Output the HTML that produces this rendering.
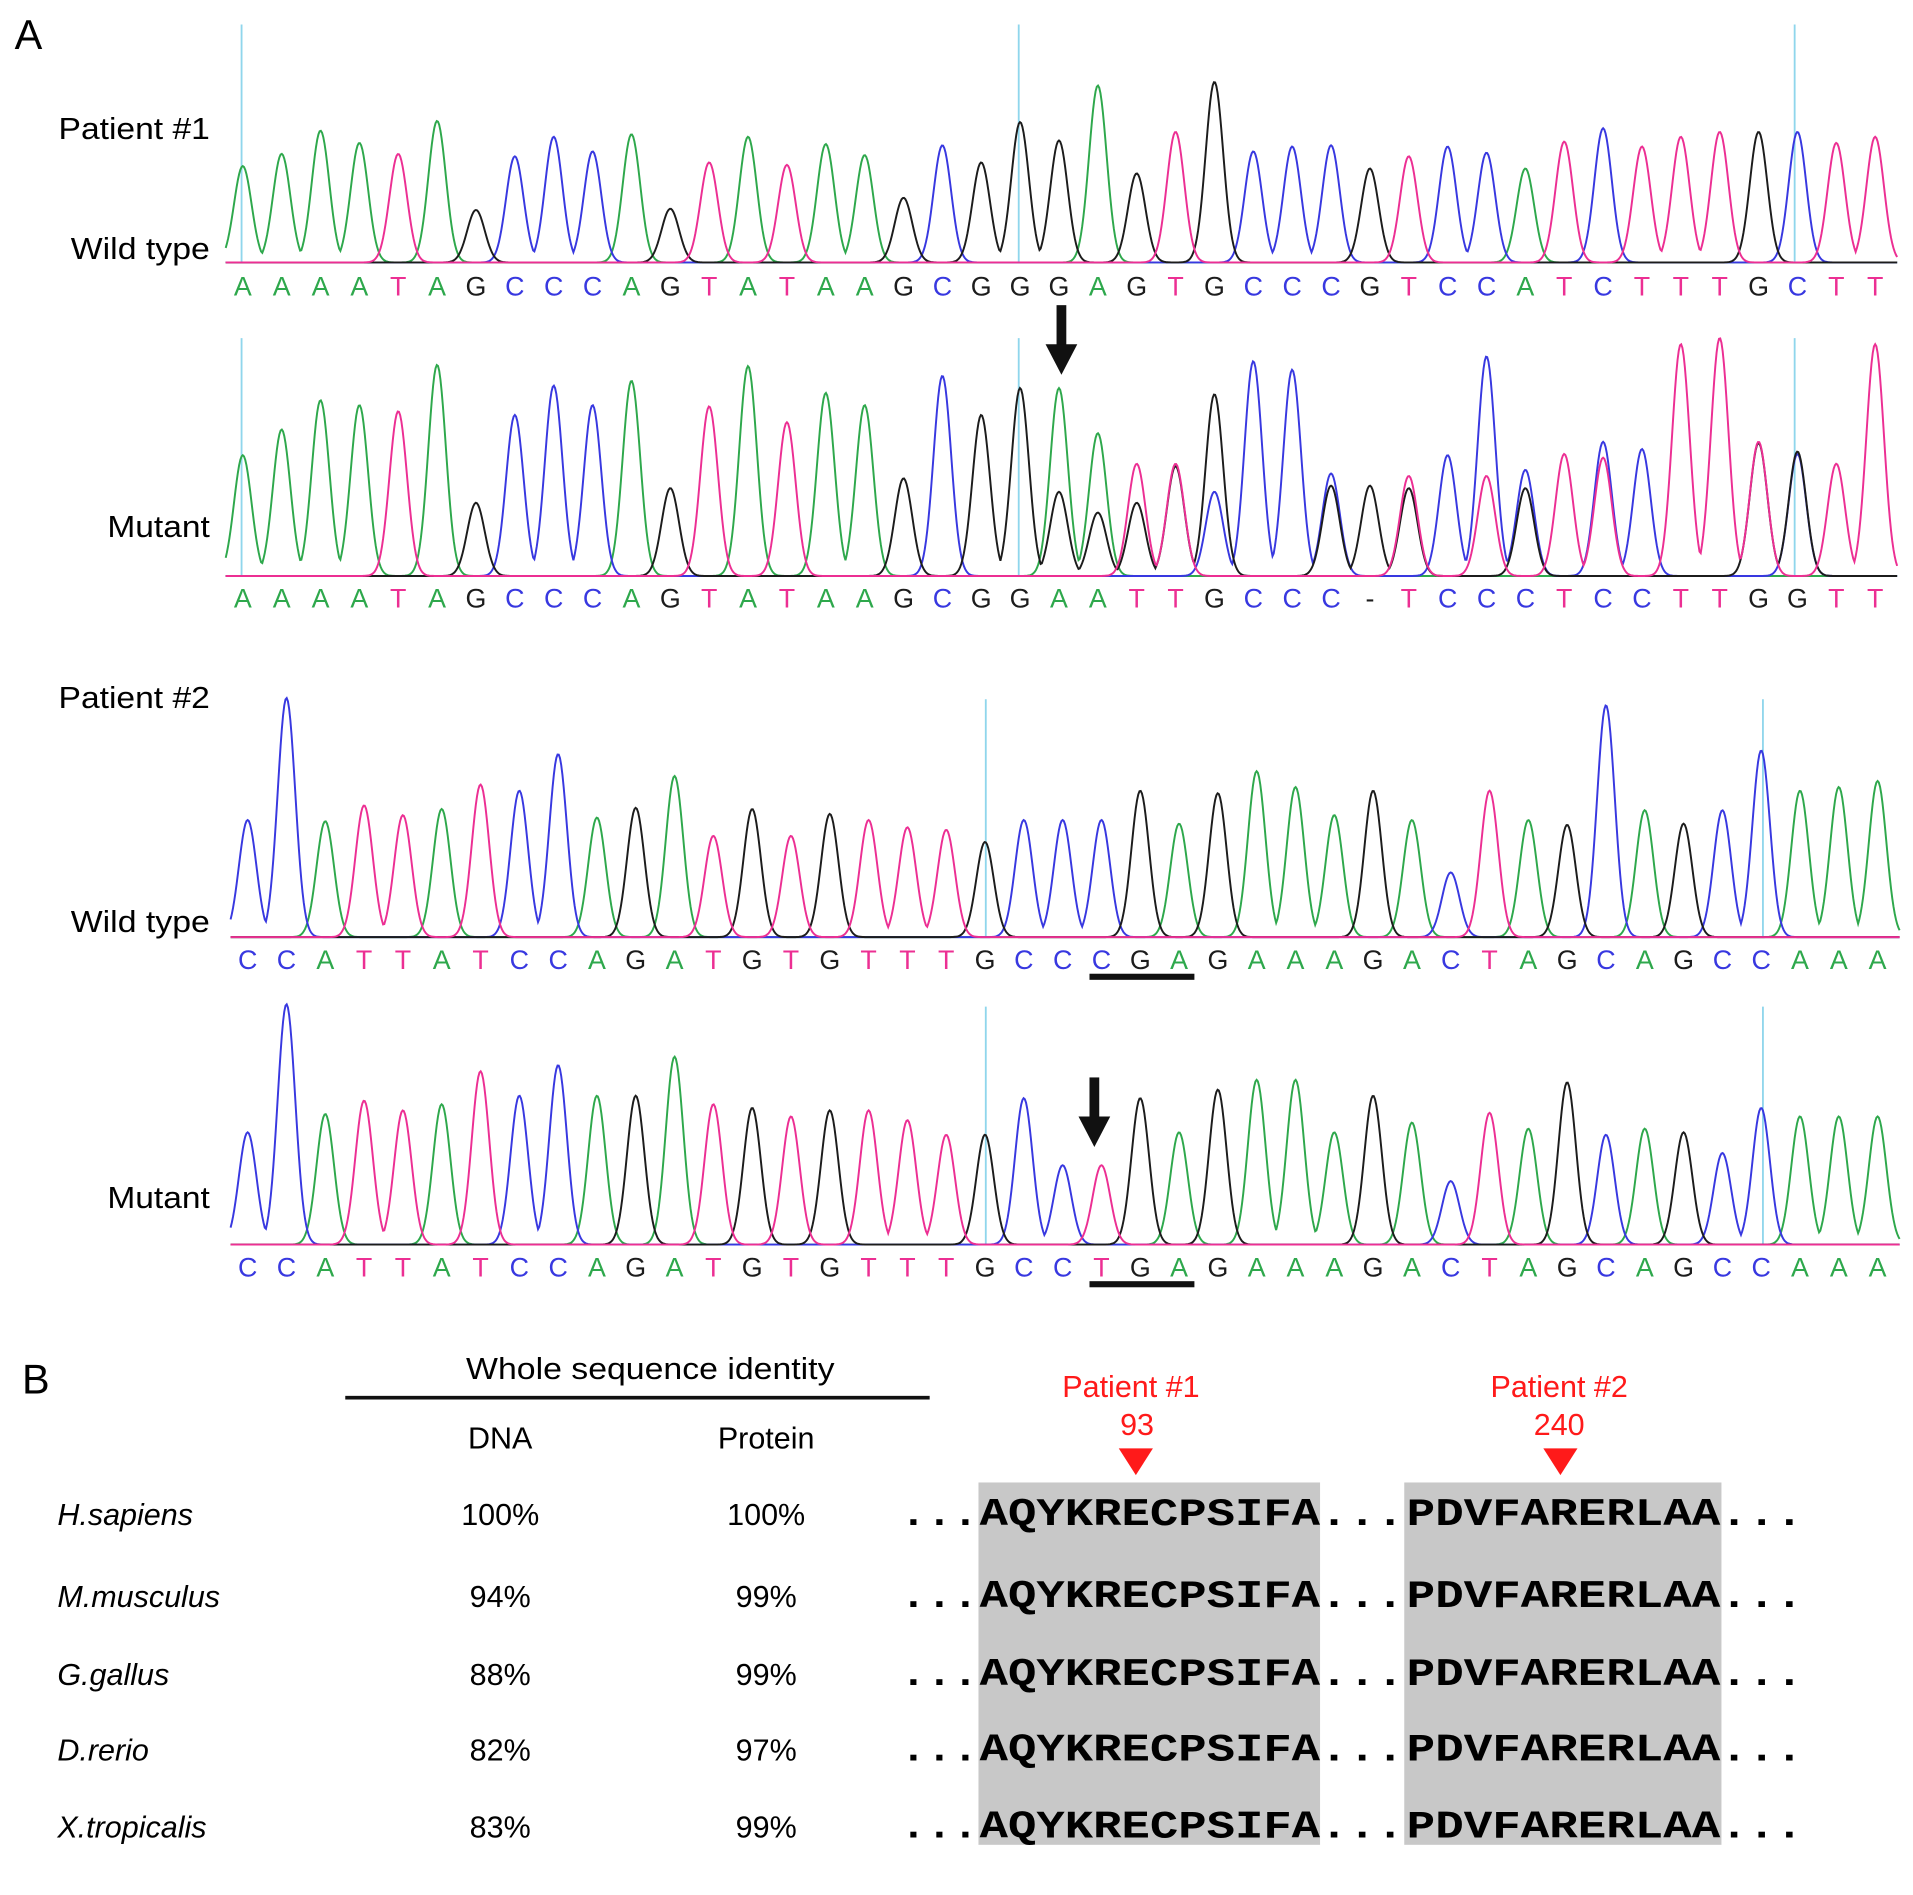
<!DOCTYPE html>
<html><head><meta charset="utf-8">
<style>
html,body{margin:0;padding:0;background:#fff;}
svg{display:block;}
text{font-family:"Liberation Sans",Arial,sans-serif;}
</style></head>
<body>
<svg id="fig" width="1913" height="1895" viewBox="0 0 1568 1553" xmlns="http://www.w3.org/2000/svg">
<rect width="1568" height="1553" fill="#fff"/>
<text x="12" y="40" font-size="34">A</text>
<text x="48" y="114" font-size="25" textLength="124" lengthAdjust="spacingAndGlyphs">Patient #1</text>
<text x="58" y="212" font-size="25" textLength="114" lengthAdjust="spacingAndGlyphs">Wild type</text>
<text x="88" y="440" font-size="25" textLength="84" lengthAdjust="spacingAndGlyphs">Mutant</text>
<text x="48" y="580" font-size="25" textLength="124" lengthAdjust="spacingAndGlyphs">Patient #2</text>
<text x="58" y="764" font-size="25" textLength="114" lengthAdjust="spacingAndGlyphs">Wild type</text>
<text x="88" y="990" font-size="25" textLength="84" lengthAdjust="spacingAndGlyphs">Mutant</text>
<g id="traces"></g>
<g>
<rect x="866" y="250" width="8" height="34" fill="#111"/><polygon points="857,282 883,282 870,307" fill="#111"/></g>
<g>
<rect x="893" y="883" width="8" height="34" fill="#111"/><polygon points="884,915 910,915 897,940" fill="#111"/></g>
<rect x="893" y="798" width="86" height="5" fill="#111"/>
<rect x="893" y="1050" width="86" height="5" fill="#111"/>

<text x="18" y="1142" font-size="34">B</text>
<text x="533" y="1130" font-size="25" text-anchor="middle" textLength="302" lengthAdjust="spacingAndGlyphs">Whole sequence identity</text>
<rect x="283" y="1144" width="479" height="3" fill="#111"/>
<text x="410" y="1187" font-size="25" text-anchor="middle">DNA</text>
<text x="628" y="1187" font-size="25" text-anchor="middle">Protein</text>
<rect x="802" y="1215" width="280" height="297" fill="#c8c8c8"/>
<rect x="1151" y="1215" width="260" height="297" fill="#c8c8c8"/>
<text x="927" y="1145" font-size="25" fill="#ff1a1a" text-anchor="middle">Patient #1</text>
<text x="932" y="1176" font-size="25" fill="#ff1a1a" text-anchor="middle">93</text>
<polygon points="917,1187 945,1187 931,1209" fill="#ff1a1a"/>
<text x="1278" y="1145" font-size="25" fill="#ff1a1a" text-anchor="middle">Patient #2</text>
<text x="1278" y="1176" font-size="25" fill="#ff1a1a" text-anchor="middle">240</text>
<polygon points="1265,1187 1293,1187 1279,1209" fill="#ff1a1a"/>
<g id="table"></g>
</svg>
<script>
const NS="http://www.w3.org/2000/svg";
const colors={A:"#2ea84c",C:"#3838e0",G:"#1c1c1c",T:"#ec2f93","-":"#1c1c1c"};
const r1Bases="AAAATAGCCCAGTATAAGCGGGAGTGCCCGTCCATCTTTGCTT".split("");
const r1Tops=[136,126,107,117,126,99,172,128,112,124,110,171,133,112,135,118,127,162,119,133,100,115,70,142,108,67,124,120,119,138,128,120,125,138,116,105,120,112,108,108,108,117,112];
const r2Bases="AAAATAGCCCAGTATAAGCGGAATTGCCC-TCCCTCCTTGGTT".split("");
const r2Tops=[373,352,328,332,337,299,412,340,316,332,312,400,333,300,346,322,332,392,308,340,318,318,355,380,380,323,296,303,388,398,390,373,292,385,372,362,368,282,277,363,370,380,282];
const r2SecBases="GGGGCGGTGTTC".split("");
const r2SecIdx=[21,22,23,24,25,28,30,32,33,35,39,40];
const r2SecTops=[403,420,412,382,403,398,400,390,400,375,362,372];
const r3Bases="CCATTATCCAGATGTGTTTGCCCGAGAAAGACTAGCAGCCAAA".split("");
const r3Tops=[672,572,673,660,668,663,643,648,618,670,662,636,685,663,685,667,672,678,680,690,672,672,672,648,675,650,632,645,668,648,672,715,648,672,676,578,664,675,664,615,648,645,640];
const r4Bases="CCATTATCCAGATGTGTTTGCCTGAGAAAGACTAGCAGCCAAA".split("");
const r4Tops=[928,823,913,902,910,905,878,898,873,898,898,866,905,908,915,910,910,918,930,930,900,955,955,900,928,893,885,885,928,898,920,968,912,925,887,930,925,928,945,908,915,915,915];
const rows=[
 {name:"p1-wildtype",bases:r1Bases,tops:r1Tops,x0:199,x1:1537,base:215,letterY:242,cyan:[198,835,1471],cTop:20},
 {name:"p1-mutant",bases:r2Bases,tops:r2Tops,x0:199,x1:1537,base:472,letterY:498,cyan:[198,835,1471],cTop:277,sec:{b:r2SecBases,i:r2SecIdx,t:r2SecTops}},
 {name:"p2-wildtype",bases:r3Bases,tops:r3Tops,x0:203,x1:1539,base:768,letterY:794,cyan:[808,1445],cTop:573},
 {name:"p2-mutant",bases:r4Bases,tops:r4Tops,x0:203,x1:1539,base:1020,letterY:1046,cyan:[808,1445],cTop:825}
];
const g=document.getElementById("traces");
rows.forEach(r=>{
 const n=r.bases.length, dx=(r.x1-r.x0)/(n-1);
 const xs=i=>r.x0+i*dx;
 r.cyan.forEach(cx=>{const l=document.createElementNS(NS,"line");
  l.setAttribute("x1",cx);l.setAttribute("x2",cx);l.setAttribute("y1",r.cTop);l.setAttribute("y2",r.base);
  l.setAttribute("stroke","#8fd6ec");l.setAttribute("stroke-width","1.5");
  
  
  g.appendChild(l);});
 const peaks={A:[],C:[],G:[],T:[]};
 r.bases.forEach((b,i)=>{const k=b==="-"?"G":b;peaks[k].push([xs(i),r.base-r.tops[i]]);});
 if(r.sec) r.sec.b.forEach((b,j)=>{peaks[b].push([xs(r.sec.i[j]),r.base-r.sec.t[j]]);});
 const s=7.2;
 ["A","C","G","T"].forEach(k=>{
  let d="";
  for(let x=r.x0-14;x<=r.x1+18;x+=1){
   let y=0;peaks[k].forEach(p=>{y=Math.max(y,p[1]*Math.exp(-((x-p[0])**2)/(2*s*s)));});
   d+=(d?"L":"M")+x+","+(r.base-y).toFixed(1);
  }
  const p=document.createElementNS(NS,"path");
  p.setAttribute("d",d);p.setAttribute("fill","none");p.setAttribute("stroke",colors[k]);p.setAttribute("stroke-width","1.6");
  
  
  g.appendChild(p);
 });
 r.bases.forEach((b,i)=>{const t=document.createElementNS(NS,"text");
  t.setAttribute("x",xs(i));t.setAttribute("y",r.letterY);t.setAttribute("text-anchor","middle");
  t.setAttribute("font-size","22");t.setAttribute("fill",colors[b]);t.textContent=b;
  
  
  g.appendChild(t);});
});
const species=["H.sapiens","M.musculus","G.gallus","D.rerio","X.tropicalis"];
const dnaVals=["100%","94%","88%","82%","83%"];
const protVals=["100%","99%","99%","97%","99%"];
const rowY=[1250,1317,1381,1443,1506];
const tb=document.getElementById("table");
function tx(x,y,str,opts){const t=document.createElementNS(NS,"text");t.setAttribute("x",x);t.setAttribute("y",y);
 for(const k in opts)t.setAttribute(k,opts[k]);t.textContent=str;tb.appendChild(t);return t;}
species.forEach((sp,i)=>{
 const y=rowY[i];
 let t=tx(47,y,sp,{"font-size":"25","font-style":"italic"});
 
 
 t=tx(410,y,dnaVals[i],{"font-size":"25","text-anchor":"middle"});
 
 
 t=tx(628,y,protVals[i],{"font-size":"25","text-anchor":"middle"});
 
 
 const segs=[["...",738,64],["AQYKRECPSIFA",803,279],["...",1082,69],["PDVFARERLAA",1153,257],["...",1410,68]];
 segs.forEach(s=>{const e=tx(s[1],y,s[0],{"font-size":"32","font-weight":"bold","textLength":s[2],"lengthAdjust":"spacingAndGlyphs","style":"font-family:'Liberation Mono',monospace"});
  
  });
});
</script>
</body></html>
